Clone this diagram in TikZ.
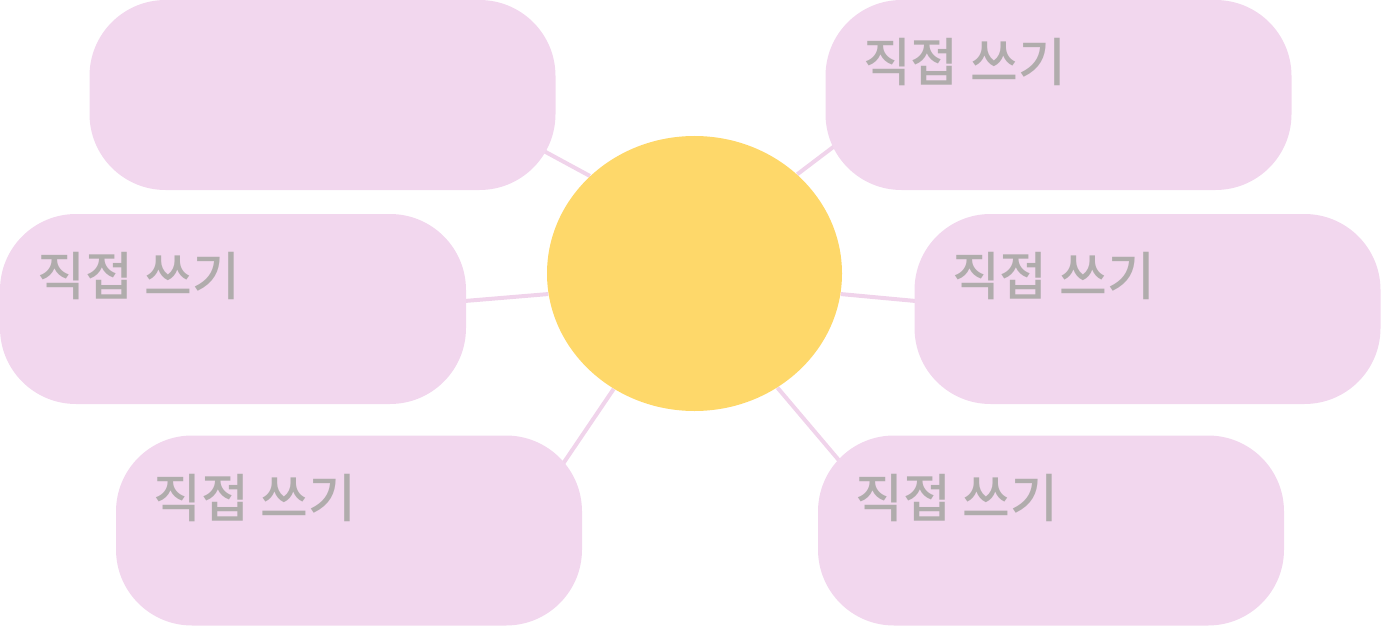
\documentclass[tikz,border=0pt]{standalone}
\usepackage{fontspec}
\newfontfamily\krfont{Noto Sans CJK KR}[BoldFont={Noto Sans CJK KR Medium}]
\usetikzlibrary{shapes.geometric,backgrounds}
\definecolor{boxpink}{HTML}{F2D7EE}
\definecolor{linkpink}{HTML}{F0D4EB}
\definecolor{sunyellow}{HTML}{FED86A}
\definecolor{textgray}{HTML}{B0ACAC}

\begin{document}
\begin{tikzpicture}[x=0.5pt,y=-0.5pt,
	bubble/.style={rectangle,fill=boxpink,rounded corners=38pt,minimum width=233pt,minimum height=95pt,inner sep=0pt},
	hub/.style={ellipse,fill=sunyellow,minimum width=147.5pt,minimum height=137.5pt,inner sep=0pt},
	entry/.style={anchor=base west,inner sep=0pt,text=textgray,font=\krfont\bfseries\fontsize{26pt}{26pt}\selectfont},
	link/.style={draw=linkpink,line width=2pt,shorten >=-30pt}]
	\useasboundingbox (0,0) rectangle (1381,626);
	
	\node[hub] (c) at (694.5,273.5) {};
	\node[bubble] (tl) at (322.5,95) {};
	\node[bubble] (tr) at (1058.5,95) {};
	\node[bubble] (ml) at (233,309) {};
	\node[bubble] (mr) at (1147.5,309) {};
	\node[bubble] (bl) at (349,530.5) {};
	\node[bubble] (br) at (1051,530.5) {};
	
	\node[entry] (trtext) at ([shift={(18.75pt,-41pt)}]tr.north west) {직접 쓰기};
	\node[entry] (mltext) at ([shift={(18.75pt,-41pt)}]ml.north west) {직접 쓰기};
	\node[entry] (mrtext) at ([shift={(18.75pt,-41pt)}]mr.north west) {직접 쓰기};
	\node[entry] (bltext) at ([shift={(18.75pt,-41pt)}]bl.north west) {직접 쓰기};
	\node[entry] (brtext) at ([shift={(18.75pt,-41pt)}]br.north west) {직접 쓰기};
	
	\begin{scope}[on background layer]
		\draw[link] (c.137.3) -- (tl.-15);
		\draw[link] (c.44.4) -- (tr.194);
		\draw[link] (c.188.7) -- (ml.2);
		\draw[link] (c.-8) -- (mr.178);
		\draw[link] (c.235.5) -- (bl.north east);
		\draw[link] (c.-54) -- (br.north west);
	\end{scope}
\end{tikzpicture}
\end{document}
